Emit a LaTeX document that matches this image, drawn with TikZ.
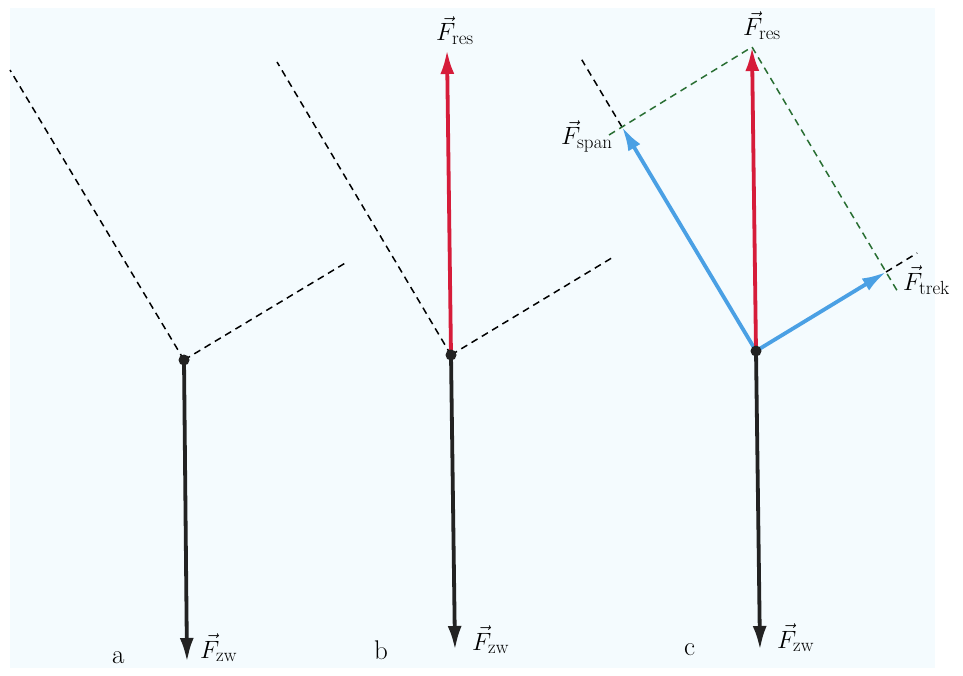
\RequirePackage{fix-cm}
\documentclass[tikz,border=0pt]{standalone}
\usepackage{amsmath}
\usepackage{amssymb}
\usetikzlibrary{arrows.meta,calc}

\DeclareMathSizes{25}{25}{19}{15}

\definecolor{paper}{rgb}{0.955,0.985,0.995}
\definecolor{resred}{RGB}{214,28,58}
\definecolor{compblue}{RGB}{74,160,228}
\definecolor{dashgreen}{RGB}{40,110,50}
\definecolor{forceblack}{RGB}{34,34,34}

\tikzset{
  force/.style={line width=3.8pt, -{Latex[length=24pt,width=14pt]}},
  guide/.style={line width=1.5pt, dash pattern=on 7pt off 5pt},
  lbl/.style={font=\fontsize{25}{30}\selectfont, inner sep=0pt, anchor=base west},
  letter/.style={font=\fontsize{27}{32}\selectfont, inner sep=0pt, anchor=base west},
  pt/.style={fill=forceblack}
}

\begin{document}
\begin{tikzpicture}[x=1pt,y=-1pt]
        \useasboundingbox (0,0) rectangle (963,676);
        \fill[paper] (10,8) rectangle (935,668);
        %a
        \coordinate (oa) at (184,360);
        \coordinate (la) at (10,70);
        \coordinate (ra) at (347,262);
        \coordinate (za) at (187,662);
        \draw[guide] (oa) -- (la);
        \draw[guide] (oa) -- (ra);
        \draw[force, forceblack] (oa) -- (za);
        \fill[pt] (oa) circle (5.5);
        \node[lbl] (fza) at (200,658) {$\vec{F}_{\mathrm{zw}}$};
        \node[letter] (na) at (112,663) {a};
        %b
        \coordinate (ob) at (451,355);
        \coordinate (lb) at (277,62);
        \coordinate (rb) at (615,256);
        \coordinate (resb) at (447,50);
        \coordinate (zb) at (455,650);
        \draw[guide] (ob) -- (lb);
        \draw[guide] (ob) -- (rb);
        \draw[force, resred] (ob) -- (resb);
        \draw[force, forceblack] (ob) -- (zb);
        \fill[pt] (ob) circle (5.5);
        \node[lbl] (frb) at (436,41) {$\vec{F}_{\mathrm{res}}$};
        \node[lbl] (fzb) at (472,650) {$\vec{F}_{\mathrm{zw}}$};
        \node[letter] (nb) at (374,659) {b};
        %c
        \coordinate (oc) at (756,351);
        \coordinate (span) at (622,127);
        \coordinate (trek) at (886,272);
        \coordinate (resc) at (752,47);
        \coordinate (zc) at (760,650);
        \draw[guide] (span) -- ($(oc)!1.3!(span)$);
        \draw[guide] (trek) -- ($(oc)!1.24!(trek)$);
        \draw[guide, dashgreen] ($(span)!-0.1!(resc)$) -- (resc) -- ($(resc)!1.09!(trek)$);
        \draw[force, compblue] (oc) -- (span);
        \draw[force, compblue] (oc) -- (trek);
        \draw[force, resred] (oc) -- (resc);
        \draw[force, forceblack] (oc) -- (zc);
        \fill[pt] (oc) circle (5.5);
        \node[lbl] (frc) at (743,36) {$\vec{F}_{\mathrm{res}}$};
        \node[lbl] (fsc) at (561,145) {$\vec{F}_{\mathrm{span}}$};
        \node[lbl] (ftc) at (903,290) {$\vec{F}_{\mathrm{trek}}$};
        \node[lbl] (fzc) at (777,648) {$\vec{F}_{\mathrm{zw}}$};
        \node[letter] (nc) at (684,655) {c};
    \end{tikzpicture}
\end{document}
